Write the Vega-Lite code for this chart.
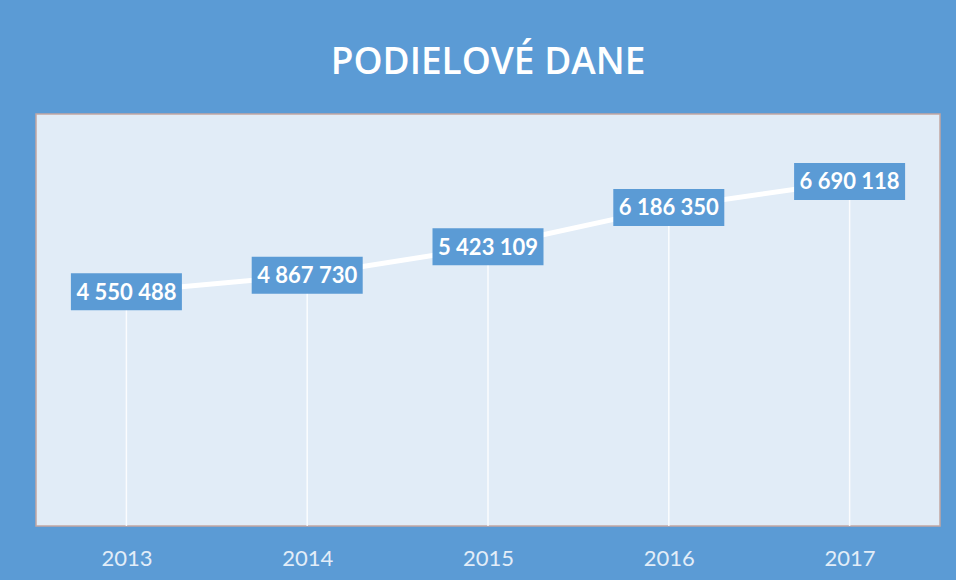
{
  "$schema": "https://vega.github.io/schema/vega-lite/v6.json",
  "width": 904,
  "height": 412,
  "padding": {"left": 36, "right": 16, "top": 44, "bottom": 20},
  "background": "#5b9bd5",
  "title": {
    "text": "PODIELOVÉ DANE",
    "color": "white",
    "fontSize": 37,
    "font": "Open Sans",
    "fontWeight": 600,
    "anchor": "middle",
    "offset": 32
  },
  "data": {
    "values": [
      {"year": "2013", "value": 4550488},
      {"year": "2014", "value": 4867730},
      {"year": "2015", "value": 5423109},
      {"year": "2016", "value": 6186350},
      {"year": "2017", "value": 6690118}
    ]
  },
  "encoding": {
    "x": {
      "field": "year",
      "type": "ordinal",
      "scale": {"type": "point", "padding": 0.5},
      "axis": {
        "title": null,
        "labelAngle": 0,
        "domain": false,
        "ticks": false,
        "tickSize": 0,
        "grid": false,
        "labelPadding": 22,
        "labelFont": "Lato",
        "labelFontSize": 22,
        "labelColor": "#e2edf8"
      }
    },
    "y": {
      "field": "value",
      "type": "quantitative",
      "scale": {"domain": [0, 8000000]},
      "axis": null
    }
  },
  "layer": [
    {
      "mark": {"type": "rule", "color": "white", "strokeWidth": 1.5, "opacity": 0.85},
      "encoding": {"y2": {"datum": 0}}
    },
    {
      "mark": {"type": "line", "color": "white", "strokeWidth": 5},
      "encoding": {}
    },
    {
      "mark": {
        "type": "point",
        "shape": "M-1,-0.3333L1,-0.3333L1,0.3333L-1,0.3333Z",
        "size": 12321,
        "filled": true,
        "color": "#5b9bd5",
        "opacity": 1,
        "strokeWidth": 0
      }
    },
    {
      "mark": {
        "type": "text",
        "font": "Lato",
        "fontWeight": "bold",
        "fontSize": 22,
        "color": "white",
        "baseline": "middle",
        "align": "center",
        "dy": 1
      },
      "encoding": {
        "text": {"field": "value", "type": "quantitative", "format": ",d"}
      }
    }
  ],
  "config": {
    "view": {"fill": "#e1ecf7", "stroke": "#c2a7a3", "strokeWidth": 1.5},
    "locale": {
      "number": {
        "decimal": ",",
        "thousands": "\u00a0",
        "grouping": [3],
        "currency": ["", "\u00a0€"]
      }
    }
  }
}
